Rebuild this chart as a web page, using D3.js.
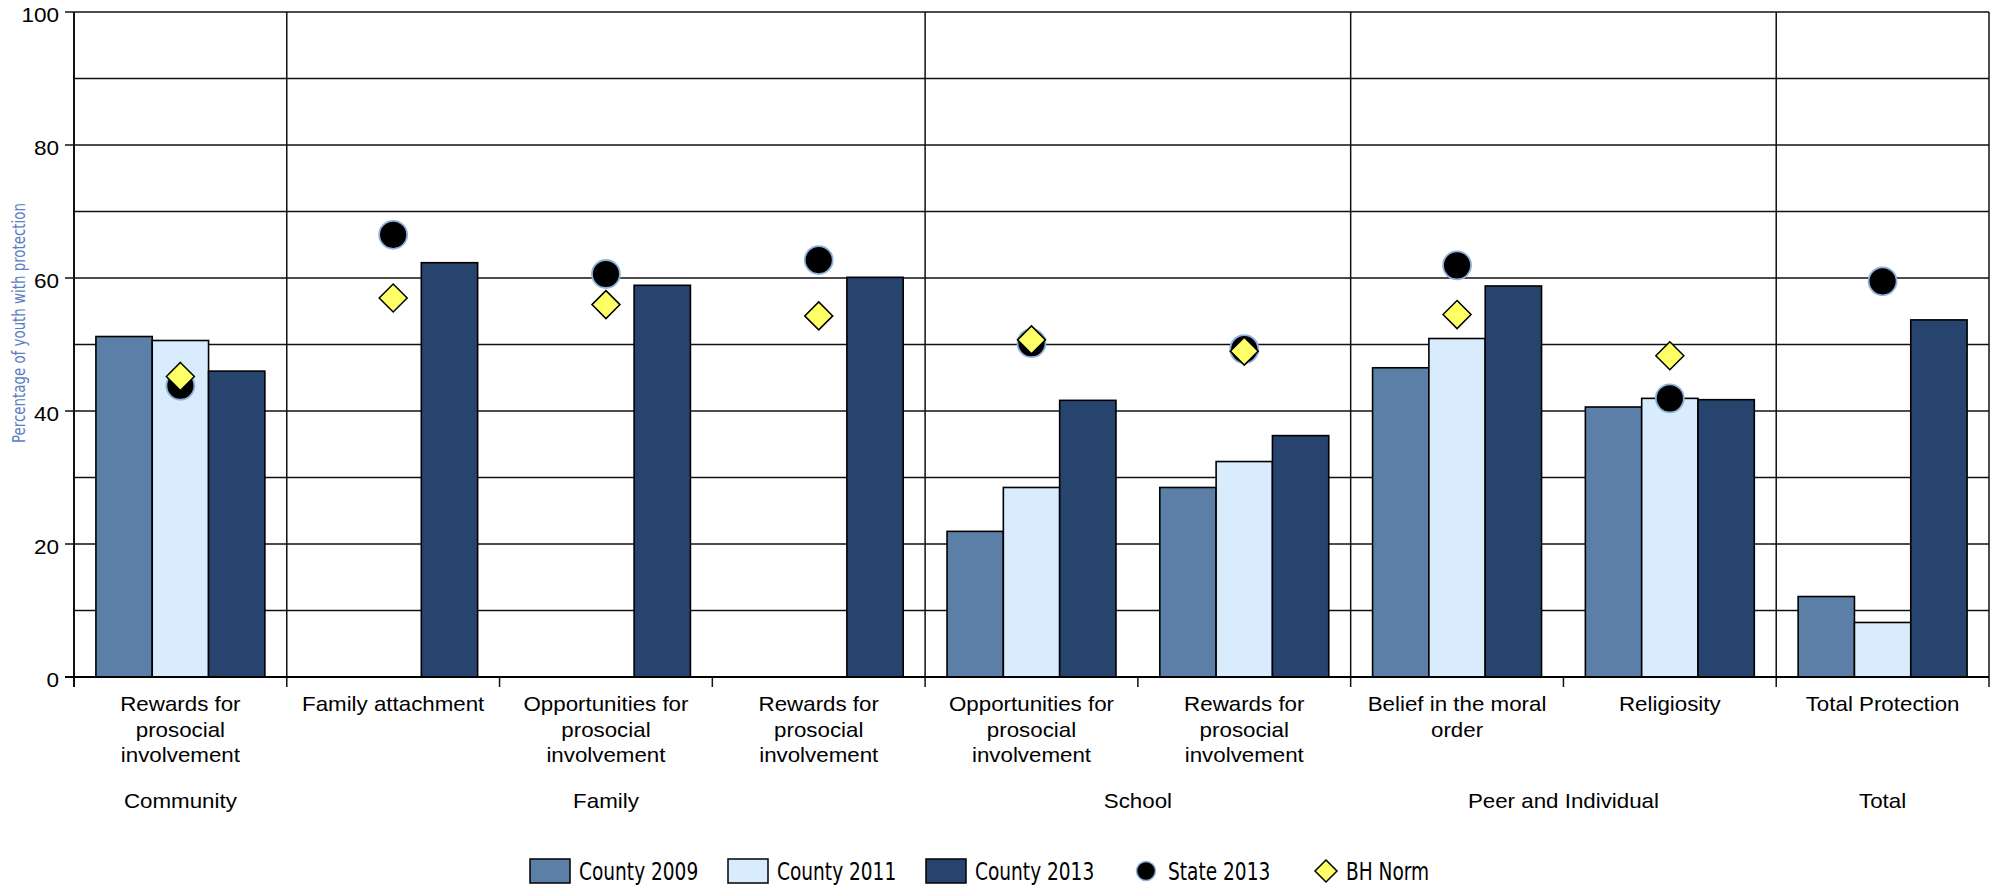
<!DOCTYPE html>
<html>
<head>
<meta charset="utf-8">
<script src="https://cdn.jsdelivr.net/npm/d3@7"></script>
<style>
  body { margin: 0; background: #fff; }
  text { font-family: "Liberation Sans", Arial, sans-serif; }
  .narrow { font-family: "Liberation Sans Narrow", "DejaVu Sans Condensed", sans-serif; }
</style>
</head>
<body>
<div id="container"></div>
<script>
/* DATA */
const categories = [
  ["Rewards for", "prosocial", "involvement"],
  ["Family attachment"],
  ["Opportunities for", "prosocial", "involvement"],
  ["Rewards for", "prosocial", "involvement"],
  ["Opportunities for", "prosocial", "involvement"],
  ["Rewards for", "prosocial", "involvement"],
  ["Belief in the moral", "order"],
  ["Religiosity"],
  ["Total Protection"]
];
const domains = ["Community", "Family", "Family", "Family", "School", "School",
  "Peer and Individual", "Peer and Individual", "Total"];

const county2009 = [51.2, null, null, null, 21.9, 28.5, 46.5, 40.6, 12.1];
const county2011 = [50.6, null, null, null, 28.5, 32.4, 50.9, 41.9, 8.2];
const county2013 = [46.0, 62.3, 58.9, 60.1, 41.6, 36.3, 58.8, 41.7, 53.7];
const state2013  = [43.8, 66.5, 60.6, 62.7, 50.2, 49.3, 61.9, 41.9, 59.5];
const bhNorm     = [45.2, 57.0, 56.0, 54.3, 50.7, 49.0, 54.5, 48.3, null];

const yTicks = [0, 20, 40, 60, 80, 100];
const yGrid = [10, 20, 30, 40, 50, 60, 70, 80, 90, 100];

const barSeries = [
  { name: "County 2009", values: county2009, color: "#5b7fa7" },
  { name: "County 2011", values: county2011, color: "#d9ecfd" },
  { name: "County 2013", values: county2013, color: "#26446e" }
];

/* CONSTANTS */
const width = 1997, height = 885;
const plotLeft = 74, plotRight = 1989, plotTop = 12, plotBottom = 677;

const svg = d3.select("#container").append("svg")
  .attr("width", width)
  .attr("height", height);

const y = d3.scaleLinear().domain([0, 100]).range([plotBottom, plotTop]);
const x0 = d3.scaleBand().domain(d3.range(categories.length)).range([plotLeft, plotRight]).padding(0);
const bw = x0.bandwidth();
const x1 = d3.scaleBand().domain(barSeries.map(d => d.name)).range([bw * 0.103, bw * 0.897]).padding(0);

// helper for text with a horizontal stretch (source text is a bit wide)
function wideText(g, x, yy, str, anchor, size, cls, sx) {
  return g.append("text")
    .attr("transform", `translate(${x},${yy}) scale(${sx || 1.1},1)`)
    .attr("text-anchor", anchor)
    .attr("font-size", size)
    .attr("class", cls || null)
    .attr("fill", "#000")
    .text(str);
}

// GRIDLINES
svg.append("g").selectAll("line")
  .data(yGrid)
  .join("line")
  .attr("x1", plotLeft).attr("x2", plotRight)
  .attr("y1", d => y(d)).attr("y2", d => y(d))
  .attr("stroke", "#111")
  .attr("stroke-width", 1.4);

// vertical dividers between domains (full height) + short ticks at every category edge
const edges = d3.range(categories.length + 1);
const edgeX = i => i < categories.length ? x0(i) : plotRight;
const isDomainEdge = i => i === 0 || i === categories.length || domains[i] !== domains[i - 1];

svg.append("g").selectAll("line")
  .data(edges)
  .join("line")
  .attr("x1", i => edgeX(i)).attr("x2", i => edgeX(i))
  .attr("y1", i => isDomainEdge(i) ? plotTop : plotBottom)
  .attr("y2", plotBottom + 10)
  .attr("stroke", "#111")
  .attr("stroke-width", i => (i === 0 ? 2 : 1.5));

// y ticks and labels
const yAxis = svg.append("g");
yAxis.selectAll("line")
  .data(yTicks)
  .join("line")
  .attr("x1", plotLeft - 9).attr("x2", plotLeft)
  .attr("y1", d => y(d)).attr("y2", d => y(d))
  .attr("stroke", "#111")
  .attr("stroke-width", 1.5);
yTicks.forEach(t => wideText(yAxis, 59, y(t) + 10, t, "end", 20.5));

// BARS
const groups = svg.append("g").selectAll("g")
  .data(categories.map((c, i) => i))
  .join("g")
  .attr("transform", i => `translate(${x0(i)},0)`);

groups.selectAll("rect")
  .data(i => barSeries.map(s => ({ s, v: s.values[i] })).filter(d => d.v != null))
  .join("rect")
  .attr("x", d => x1(d.s.name))
  .attr("width", x1.bandwidth())
  .attr("y", d => y(d.v))
  .attr("height", d => y(0) - y(d.v))
  .attr("fill", d => d.s.color)
  .attr("stroke", "#000")
  .attr("stroke-width", 1.6);

// baseline
svg.append("line")
  .attr("x1", plotLeft - 9).attr("x2", plotRight)
  .attr("y1", y(0)).attr("y2", y(0))
  .attr("stroke", "#000")
  .attr("stroke-width", 2.2);

// STATE 2013 circles
svg.append("g").selectAll("circle")
  .data(state2013.map((v, i) => ({ v, i })).filter(d => d.v != null))
  .join("circle")
  .attr("cx", d => x0(d.i) + bw / 2)
  .attr("cy", d => y(d.v))
  .attr("r", 14)
  .attr("fill", "#000")
  .attr("stroke", "#8fb2dd")
  .attr("stroke-width", 1.8);

// BH NORM diamonds
const diamond = s => `M0,${-s}L${s},0L0,${s}L${-s},0Z`;
svg.append("g").selectAll("path")
  .data(bhNorm.map((v, i) => ({ v, i })).filter(d => d.v != null))
  .join("path")
  .attr("d", diamond(14))
  .attr("transform", d => `translate(${x0(d.i) + bw / 2},${y(d.v)})`)
  .attr("fill", "#ffff66")
  .attr("stroke", "#000")
  .attr("stroke-width", 1.5);

// CATEGORY LABELS
const labels = svg.append("g");
categories.forEach((lines, i) => {
  lines.forEach((ln, k) => wideText(labels, x0(i) + bw / 2, 711 + k * 25.5, ln, "middle", 20.3));
});

// DOMAIN LABELS
const domainNames = Array.from(new Set(domains));
domainNames.forEach(name => {
  const idx = domains.map((d, i) => d === name ? i : -1).filter(i => i >= 0);
  const cx = (x0(idx[0]) + x0(idx[idx.length - 1]) + bw) / 2;
  wideText(labels, cx, 808, name, "middle", 20.3);
});

// Y TITLE
svg.append("text")
  .attr("class", "narrow")
  .attr("transform", "translate(25,323) rotate(-90)")
  .attr("text-anchor", "middle")
  .attr("font-size", 17)
  .attr("textLength", 240)
  .attr("lengthAdjust", "spacingAndGlyphs")
  .attr("fill", "#5b7ec2")
  .text("Percentage of youth with protection");

// LEGEND
const legend = svg.append("g");
const legendY = 871;
const legendX = [530, 728, 926, 1146, 1326];
const legendStretch = 0.86;

barSeries.forEach((s, k) => {
  legend.append("rect")
    .attr("x", legendX[k]).attr("y", legendY - 12)
    .attr("width", 40).attr("height", 24)
    .attr("fill", s.color)
    .attr("stroke", "#000")
    .attr("stroke-width", 1.5);
  wideText(legend, legendX[k] + 49, legendY + 9, s.name, "start", 24, "narrow", legendStretch);
});

legend.append("circle")
  .attr("cx", legendX[3]).attr("cy", legendY)
  .attr("r", 9.5)
  .attr("fill", "#000")
  .attr("stroke", "#8fb2dd")
  .attr("stroke-width", 1.5);
wideText(legend, legendX[3] + 22, legendY + 9, "State 2013", "start", 24, "narrow", legendStretch);

legend.append("path")
  .attr("d", diamond(11))
  .attr("transform", `translate(${legendX[4]},${legendY})`)
  .attr("fill", "#ffff66")
  .attr("stroke", "#000")
  .attr("stroke-width", 1.5);
wideText(legend, legendX[4] + 20, legendY + 9, "BH Norm", "start", 24, "narrow", legendStretch);
</script>
</body>
</html>
